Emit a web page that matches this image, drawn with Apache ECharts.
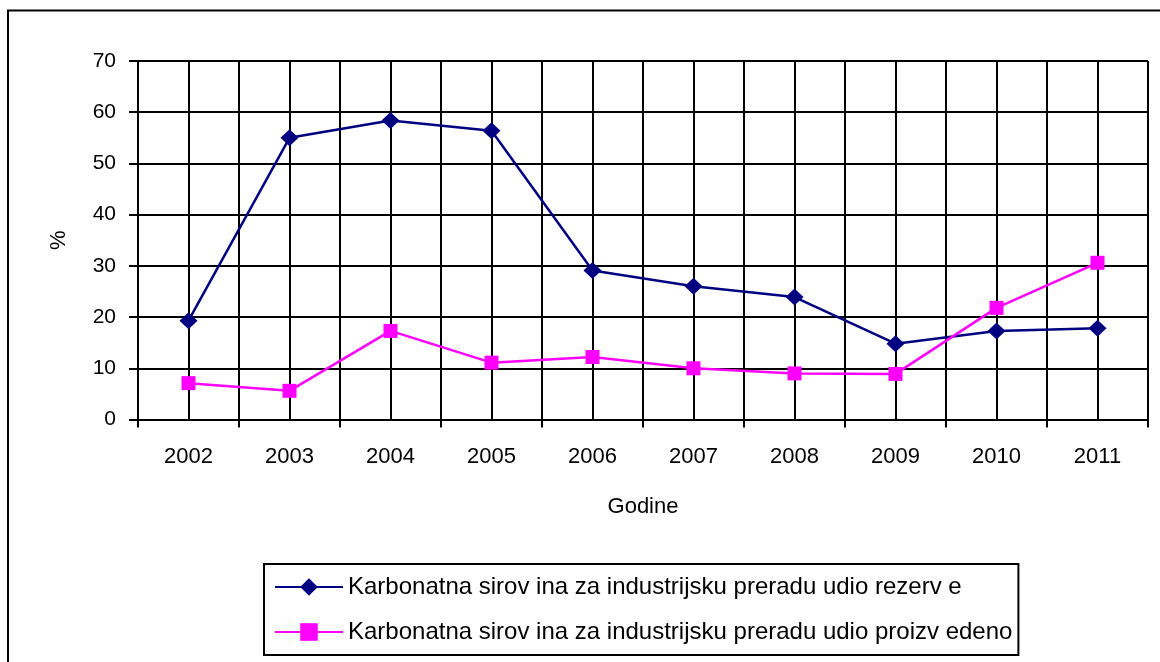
<!DOCTYPE html>
<html>
<head>
<meta charset="utf-8">
<script src="https://cdn.jsdelivr.net/npm/echarts@6/dist/echarts.min.js"></script>
<style>
  html, body { margin: 0; padding: 0; background: #fff; }
  #chart { width: 1160px; height: 662px; }
</style>
</head>
<body>
<div id="chart"></div>
<script>
  // godine (x os)
  var years = ['2002', '2003', '2004', '2005', '2006', '2007', '2008', '2009', '2010', '2011'];
  var yTicks = [0, 10, 20, 30, 40, 50, 60, 70];
  // udio u %
  var rezerve = [19.3, 55.0, 58.4, 56.4, 29.1, 26.0, 23.9, 14.8, 17.3, 17.8];
  var proizvedeno = [7.1, 5.6, 17.3, 11.1, 12.2, 10.0, 9.0, 8.9, 21.8, 30.6];
  var nameRezerve = 'Karbonatna sirov ina za industrijsku preradu udio rezerv e';
  var nameProizvedeno = 'Karbonatna sirov ina za industrijsku preradu udio proizv edeno';

  var font = "'Liberation Sans', Arial, sans-serif";
  var myChart = echarts.init(document.getElementById('chart'));
  var option = {
    animation: false,
    textStyle: { fontFamily: font },
    // okvir oko cijelog grafa
    graphic: [{
      type: 'rect',
      shape: { x: 8, y: 10.5, width: 1200, height: 700 },
      style: { fill: 'none', stroke: '#000', lineWidth: 2 },
      silent: true
    }],
    grid: { left: 138, right: 12, top: 61, bottom: 242.5 },
    legend: {
      orient: 'vertical',
      left: 264,
      top: 564,
      padding: [11, 6, 11, 10],
      itemGap: 21,
      itemWidth: 68,
      itemHeight: 22,
      borderColor: '#000',
      borderWidth: 2,
      textStyle: { fontSize: 24, color: '#000', fontFamily: font },
      data: [nameRezerve, nameProizvedeno]
    },
    xAxis: [{
      type: 'category',
      data: years,
      boundaryGap: true,
      name: 'Godine',
      nameLocation: 'middle',
      nameGap: 76,
      nameTextStyle: { fontSize: 22, color: '#000' },
      axisLine: { lineStyle: { color: '#000', width: 2 } },
      axisTick: { show: true, length: 8, lineStyle: { color: '#000', width: 2 } },
      axisLabel: { fontSize: 22, color: '#000', margin: 26 },
      splitLine: { show: true, lineStyle: { color: '#000', width: 2 } }
    }, {
      // pomocna os samo za okomite linije kroz sredinu kategorija
      type: 'value',
      min: 0,
      max: years.length,
      interval: 0.5,
      show: true,
      axisLine: { show: false },
      axisTick: { show: false },
      axisLabel: { show: false },
      splitLine: { show: true, lineStyle: { color: '#000', width: 2 } }
    }],
    yAxis: {
      type: 'value',
      min: yTicks[0],
      max: yTicks[yTicks.length - 1],
      interval: 10,
      name: '%',
      nameLocation: 'middle',
      nameGap: 68,
      nameRotate: 90,
      nameTextStyle: { fontSize: 22, color: '#000' },
      axisLine: { show: true, lineStyle: { color: '#000', width: 2 } },
      axisTick: { show: true, length: 9, lineStyle: { color: '#000', width: 2 } },
      axisLabel: { fontSize: 21, color: '#000', margin: 22 },
      splitLine: { show: true, lineStyle: { color: '#000', width: 2 } }
    },
    series: []
  };
  option.series.push({
    name: nameRezerve,
    type: 'line',
    data: rezerve,
    xAxisIndex: 0,
    symbol: 'diamond',
    symbolSize: [18, 17],
    color: '#000080',
    lineStyle: { color: '#000080', width: 2.5 },
    itemStyle: { color: '#000080' }
  });
  option.series.push({
    name: nameProizvedeno,
    type: 'line',
    data: proizvedeno,
    xAxisIndex: 0,
    symbol: 'rect',
    symbolSize: 14,
    color: '#FF00FF',
    lineStyle: { color: '#FF00FF', width: 2.5 },
    itemStyle: { color: '#FF00FF' }
  });
  myChart.setOption(option, true);
</script>
</body>
</html>
